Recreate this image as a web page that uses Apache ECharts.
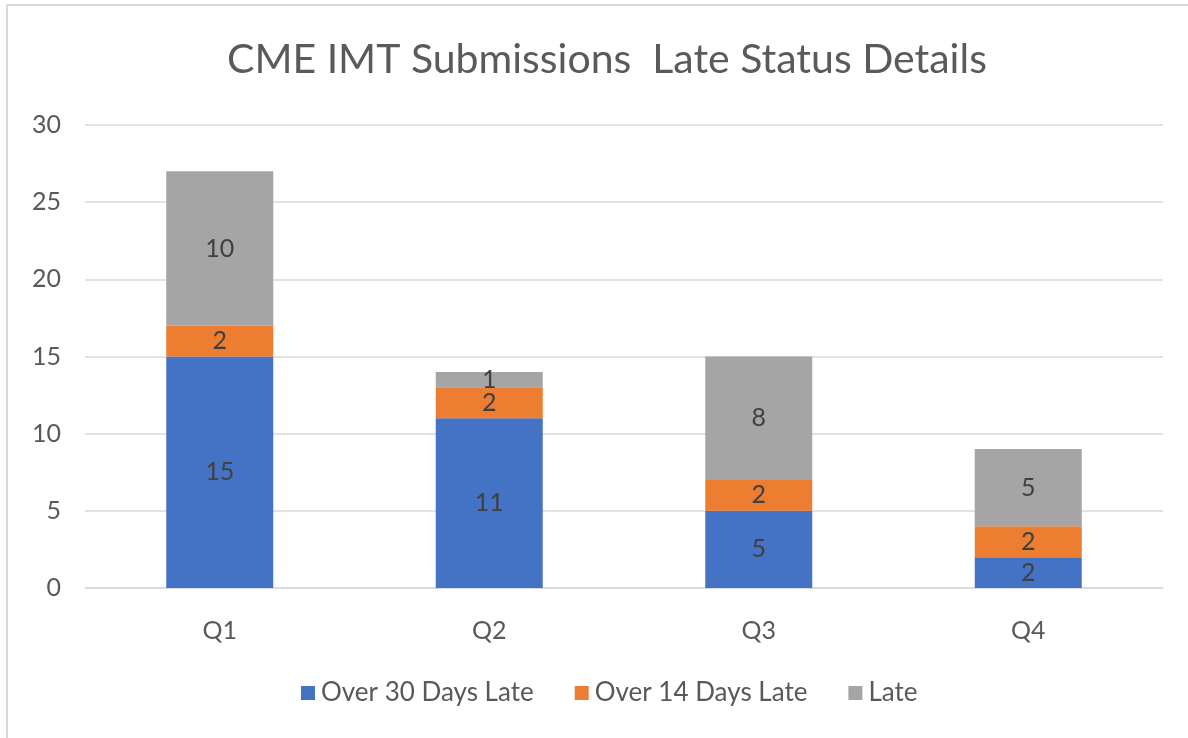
<!DOCTYPE html>
<html><head><meta charset="utf-8">
<script src="https://cdn.jsdelivr.net/npm/echarts@6/dist/echarts.min.js"></script>
<style>html,body{margin:0;padding:0;background:#fff}#c{width:1188px;height:738px}</style>
</head><body><div id="c"></div>
<script>
const categories = ['Q1','Q2','Q3','Q4'];
const over30 = [15, 11, 5, 2];
const over14 = [2, 2, 2, 2];
const late = [10, 1, 8, 5];
const seriesNames = ['Over 30 Days Late','Over 14 Days Late','Late'];
const colors = ['#4472C4','#ED7D31','#A5A5A5'];
const FONT = 'Lato';
const chart = echarts.init(document.getElementById('c'));
const mk = (name, data, color) => ({
  name, type:'bar', stack:'total', data, barWidth:107,
  itemStyle:{color},
  label:{show:true, position:'inside', color:'#404040', fontSize:25, fontFamily:FONT},
  emphasis:{disabled:true}
});
chart.setOption({
  animation:false,
  textStyle:{fontFamily:FONT},
  graphic:[{type:'rect', shape:{x:7,y:5,width:1200,height:760}, style:{fill:'none', stroke:'#d9d9d9', lineWidth:2}, silent:true}],
  title:{text:'CME IMT Submissions  Late Status Details', left:222, top:34,
    textStyle:{fontFamily:FONT, fontSize:41, fontWeight:'normal', color:'#5a5a5a'}},
  legend:{bottom:27, left:296, itemWidth:14, itemHeight:14, itemGap:41,
    icon:'rect', textStyle:{fontFamily:FONT, fontSize:26, color:'#595959', padding:[0,0,0,1]},
    data:seriesNames},
  grid:{left:85, right:25, top:125, bottom:150},
  xAxis:{type:'category', data:categories,
    axisLine:{lineStyle:{color:'#d9d9d9', width:1.5}}, axisTick:{show:false},
    axisLabel:{color:'#595959', fontSize:25, margin:30, fontFamily:FONT}},
  yAxis:{type:'value', min:0, max:30, interval:5,
    axisLine:{show:false}, axisTick:{show:false},
    splitLine:{lineStyle:{color:'#d9d9d9', width:1.5}},
    axisLabel:{color:'#595959', fontSize:25, margin:24, fontFamily:FONT}},
  series:[mk(seriesNames[0], over30, colors[0]), mk(seriesNames[1], over14, colors[1]), mk(seriesNames[2], late, colors[2])]
});
</script></body></html>
